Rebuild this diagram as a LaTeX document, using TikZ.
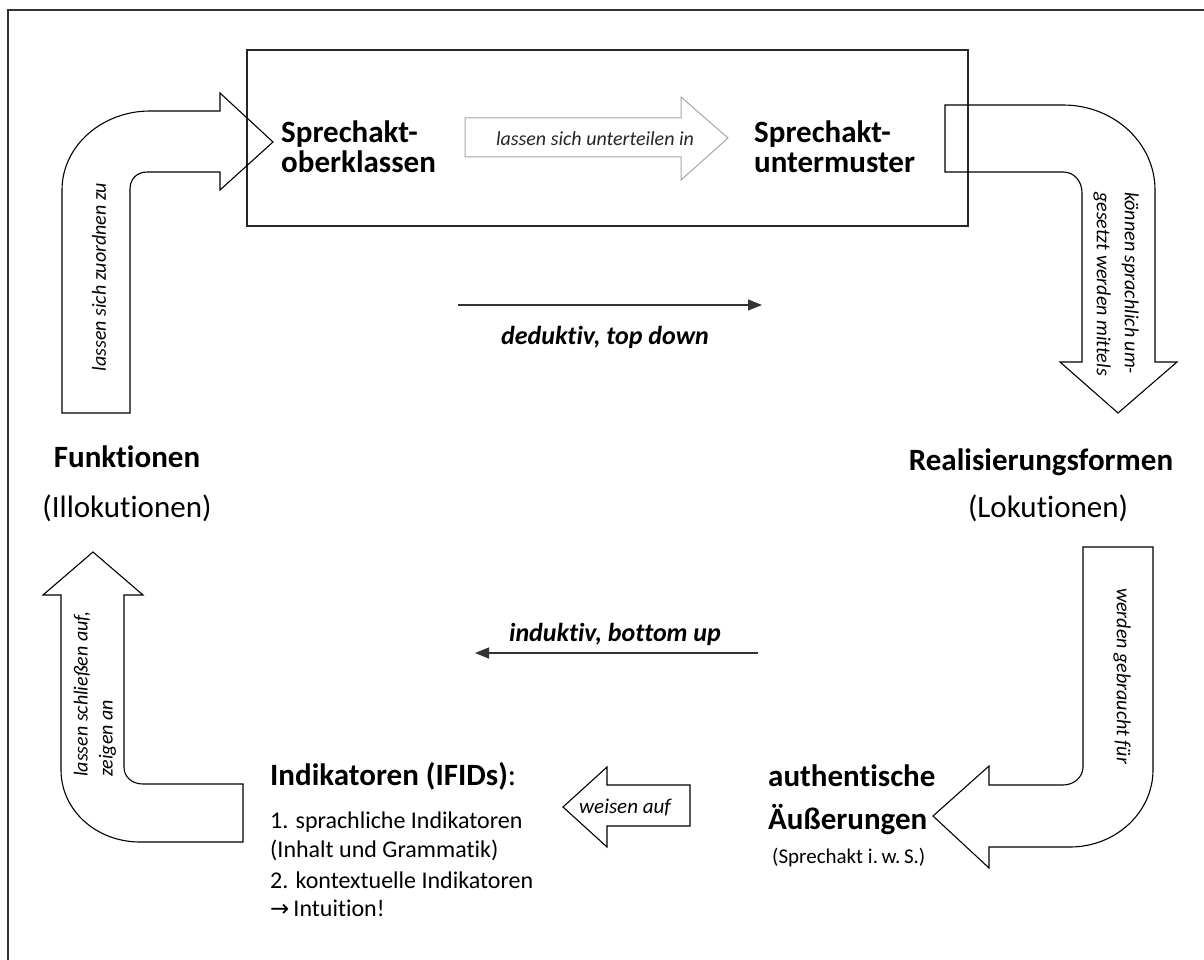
\documentclass[tikz,border=0pt]{standalone}
\usepackage{fontspec}
\setmainfont{Carlito}[Ligatures=NoCommon]
\newfontfamily\symfont{DejaVu Sans}
\usetikzlibrary{arrows.meta}

\begin{document}
\begin{tikzpicture}[x=1pt,y=-1pt,
  blockarrow/.style={draw=black, line width=1.1pt, line join=miter},
  grayarrow/.style={draw=black!35, line width=1pt, line join=miter},
  frameline/.style={draw=black!80, line width=2pt},
  boxline/.style={draw=black!85, line width=2pt},
  flowarrow/.style={draw=black!80, line width=1.2pt, -{Triangle[length=14pt,width=11pt]}},
  headtext/.style={font=\fontsize{31}{30}\selectfont\bfseries, inner sep=0pt, align=left},
  subtext/.style={font=\fontsize{31}{36}\selectfont, inner sep=0pt},
  listtext/.style={font=\fontsize{24}{28}\selectfont, inner sep=0pt, anchor=west},
  armtext/.style={font=\fontsize{20}{28}\selectfont\itshape, inner sep=0pt, align=left},
  flowtext/.style={font=\fontsize{26}{30}\selectfont\bfseries\itshape, inner sep=0pt}
]
\useasboundingbox (0,0) rectangle (1204,960);

% outer frame (only top and left edges lie inside the page)
\draw[frameline] (1220,10) -- (8,10) -- (8,975);

% main box with the two pattern levels
\draw[boxline] (247,50) rectangle (968,226);
\node[headtext, anchor=west] (ober) at (281,147) {Sprechakt-\\oberklassen};
\node[headtext, anchor=west] (unter) at (754,147) {Sprechakt-\\untermuster};

% grey block arrow inside the box
\draw[grayarrow] (465,118) -- (681,118) -- (681,97) -- (728,138) -- (681,180)
  -- (681,157) -- (465,157) -- cycle;
\node[armtext, text=black!85] (teilen) at (595,139) {lassen sich unterteilen in};

% bent arrow: Funktionen -> box
\draw[blockarrow] (62,413) -- (62,190) .. controls (62,146) and (102,111) .. (150,111)
  -- (220,111) -- (220,93) -- (273,142) -- (220,190) -- (220,172) -- (147,172)
  .. controls (137,172) and (130,179) .. (130,189) -- (130,413) -- cycle;
\node[armtext, rotate=90] (zuordnen) at (99,277) {lassen sich zuordnen zu};

% bent arrow: box -> Realisierungsformen
\draw[blockarrow] (945,105) -- (1063,105) .. controls (1114,105) and (1155,143) .. (1155,190)
  -- (1155,362) -- (1177,362) -- (1118,413) -- (1060,362) -- (1082,362) -- (1082,193)
  .. controls (1082,181) and (1074,172) .. (1063,172) -- (945,172) -- cycle;
\node[armtext, rotate=-90] (mittels) at (1116,284) {können sprachlich um-\\gesetzt werden mittels};

% top-down / bottom-up
\coordinate (dedA) at (458,305);
\coordinate (dedB) at (762,305);
\draw[flowarrow] (dedA) -- (dedB);
\node[flowtext] (deduktiv) at (605,337) {deduktiv, top down};

\coordinate (indA) at (758,653);
\coordinate (indB) at (475,653);
\draw[flowarrow] (indA) -- (indB);
\node[flowtext] (induktiv) at (615,634) {induktiv, bottom up};

% side labels
\node[headtext] (funk) at (127,457) {Funktionen};
\node[subtext] (illok) at (127,508) {(Illokutionen)};
\node[headtext] (real) at (1041,462) {Realisierungsformen};
\node[subtext] (lok) at (1048,508) {(Lokutionen)};

% bent arrow: Realisierungsformen -> Äußerungen
\draw[blockarrow] (1083,547) -- (1153,547) -- (1153,770) .. controls (1153,812) and (1116,847) .. (1070,847)
  -- (989,847) -- (989,868) -- (933,816) -- (989,766) -- (989,785) -- (1063,785)
  .. controls (1074,785) and (1083,777) .. (1083,767) -- cycle;
\node[armtext, rotate=-90] (gebraucht) at (1122,676) {werden gebraucht für};

% Äußerungen
\node[headtext, anchor=west] (auth) at (768,776) {authentische};
\node[headtext, anchor=west] (aeuss) at (768,820) {Äußerungen};
\node[font=\fontsize{21}{24}\selectfont, inner sep=0pt, anchor=west] (wS) at (772,858) {(Sprechakt i.\,w.\,S.)};

% small arrow: weisen auf
\draw[blockarrow] (563,807) -- (607,767) -- (607,785) -- (690,785) -- (690,826)
  -- (607,826) -- (607,847) -- cycle;
\node[font=\fontsize{21}{24}\selectfont\itshape, inner sep=0pt] (weisen) at (625,807) {weisen auf};

% indicators
\node[headtext, anchor=west] (ind) at (270,776) {Indikatoren (IFIDs)\mdseries:};
\node[listtext] (l1) at (270,822) {1. sprachliche Indikatoren};
\node[listtext] (l2) at (270,850) {(Inhalt und Grammatik)};
\node[listtext] (l3) at (270,880) {2. kontextuelle Indikatoren};
\node[listtext] (l4) at (270,908) {{\symfont\fontsize{23}{26}\selectfont →}\,Intuition!};

% bent arrow: Indikatoren -> Funktionen
\draw[blockarrow] (93,552) -- (143,595) -- (124,595) -- (124,767) .. controls (124,777) and (132,784) .. (143,784)
  -- (243,784) -- (243,842) -- (140,842) .. controls (96,842) and (61,810) .. (61,770)
  -- (61,595) -- (43,595) -- cycle;
\node[armtext, rotate=90, font=\fontsize{20}{25}\selectfont\itshape] (schliessen) at (95,694) {lassen schließen auf,\\zeigen an};
\end{tikzpicture}
\end{document}
